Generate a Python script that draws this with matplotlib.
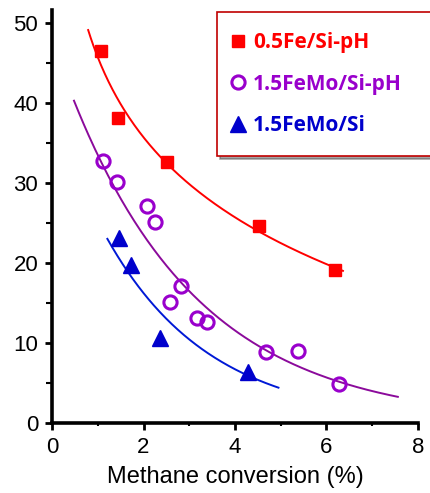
import numpy as np
import matplotlib.pyplot as plt
from matplotlib.lines import Line2D
from matplotlib.ticker import MultipleLocator

plt.rcParams['font.family'] = 'Liberation Sans'

# data
fe_x = [1.06, 1.44, 2.51, 4.52, 6.19]
fe_y = [46.6, 38.2, 32.7, 24.6, 19.2]

femo_ph_x = [1.12, 1.42, 2.08, 2.25, 2.83, 2.58, 3.18, 3.38, 4.68, 5.37, 6.28]
femo_ph_y = [32.8, 30.1, 27.2, 25.1, 17.2, 15.1, 13.1, 12.7, 8.9, 9.0, 4.9]

femo_x = [1.47, 1.72, 2.36, 4.29]
femo_y = [23.1, 19.8, 10.6, 6.4]

labels = ['0.5Fe/Si-pH', '1.5FeMo/Si-pH', '1.5FeMo/Si']
colors = ['#ff0000', '#9900cc', '#0000cc']
line_colors = ['#ff0000', '#8b0a9b', '#0019d6']
fit_ranges = [(0.79, 6.36), (0.48, 7.56), (1.21, 4.95)]
fit_kinds = ['log', 'exp', 'exp']


def trend(x, y, kind):
    x = np.asarray(x, float)
    y = np.asarray(y, float)
    if kind == 'log':
        b, a = np.polyfit(np.log(x), y, 1)
        return lambda t: a + b * np.log(t)
    k, lna = np.polyfit(x, np.log(y), 1)
    return lambda t: np.exp(lna + k * t)


fig = plt.figure(figsize=(4.3, 4.93), dpi=100)
ax = fig.add_axes([0.121, 0.142, 0.851, 0.838])

series = [(fe_x, fe_y, 's', dict(ms=8.5, mfc=colors[0], mec=colors[0])),
          (femo_ph_x, femo_ph_y, 'o', dict(ms=9.5, mfc='none', mec=colors[1], mew=2.2)),
          (femo_x, femo_y, '^', dict(ms=11, mfc=colors[2], mec=colors[2]))]

for i, (x, y, m, kw) in enumerate(series):
    f = trend(x, y, fit_kinds[i])
    t = np.linspace(*fit_ranges[i], 200)
    ax.plot(t, f(t), color=line_colors[i], lw=1.4, zorder=2)
    ax.plot(x, y, m, ls='none', zorder=3, **kw)

ax.set_xlim(0, 8)
ax.set_ylim(0, 51.7)
ax.xaxis.set_major_locator(MultipleLocator(2))
ax.xaxis.set_minor_locator(MultipleLocator(1))
ax.yaxis.set_major_locator(MultipleLocator(10))
ax.yaxis.set_minor_locator(MultipleLocator(5))
for s in ['top', 'right']:
    ax.spines[s].set_visible(False)
for s in ['left', 'bottom']:
    ax.spines[s].set_linewidth(2.6)
ax.tick_params(which='major', length=5, width=2, labelsize=16, pad=5)
ax.tick_params(which='minor', length=4, width=1.5)
ax.tick_params(axis='x', which='minor', length=2)
ax.set_xlabel('Methane conversion (%)', fontsize=17, labelpad=6)

handles = [Line2D([], [], ls='none', marker='s', ms=8.5, mfc=colors[0], mec=colors[0]),
           Line2D([], [], ls='none', marker='o', ms=9.5, mfc='none', mec=colors[1], mew=2.2),
           Line2D([], [], ls='none', marker='^', ms=11, mfc=colors[2], mec=colors[2])]
leg_top = 1 - 12 / 493
leg_h = 135 / 493
leg = fig.legend(handles, labels, loc='upper left', mode='expand',
                 bbox_to_anchor=(217 / 430, leg_top - leg_h, 0.56, leg_h),
                 labelcolor=colors, frameon=True, fancybox=False, shadow=True,
                 handlelength=0.1, handletextpad=0.67, labelspacing=1.0,
                 borderpad=0.95, borderaxespad=0,
                 prop=dict(family='Open Sans', weight='bold', size=15))
leg.get_frame().set_edgecolor('#c00000')
leg.get_frame().set_linewidth(1.2)

fig.savefig('out.png', dpi=100)
